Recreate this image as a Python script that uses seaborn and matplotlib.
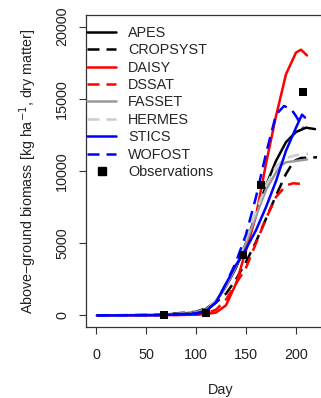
import numpy as np
import pandas as pd
import matplotlib
matplotlib.use("Agg")
import matplotlib.pyplot as plt
from matplotlib.lines import Line2D
import seaborn as sns

# Simulated above-ground biomass (kg/ha, dry matter) per crop model
models = ["APES", "CROPSYST", "DAISY", "DSSAT", "FASSET", "HERMES", "STICS", "WOFOST"]

apes_day = [1, 60, 100, 110, 120, 130, 140, 150, 160, 170, 180, 190, 200, 210, 219]
apes_val = [0, 30, 200, 450, 1000, 2000, 3300, 5000, 7000, 9000, 10700, 12000, 12700, 13000, 12900]

cropsyst_day = [1, 60, 100, 110, 120, 130, 140, 150, 160, 170, 180, 190, 198, 205, 221]
cropsyst_val = [0, 40, 250, 500, 900, 1500, 2500, 3700, 5100, 6700, 8300, 9800, 10700, 10900, 10950]

daisy_day = [1, 60, 100, 110, 120, 130, 140, 150, 160, 170, 180, 190, 200, 205, 211]
daisy_val = [0, 10, 50, 100, 200, 700, 2200, 4500, 6900, 10500, 13800, 16700, 18200, 18400, 18000]

dssat_day = [1, 60, 100, 110, 120, 130, 140, 150, 160, 170, 180, 190, 197, 206]
dssat_val = [0, 10, 60, 120, 400, 1100, 2200, 3300, 5000, 6700, 8200, 9000, 9150, 9100]

fasset_day = [1, 60, 100, 110, 120, 130, 140, 150, 160, 170, 180, 185, 190, 200, 211]
fasset_val = [0, 20, 150, 400, 1000, 2000, 3400, 5000, 6900, 8700, 9900, 10400, 10600, 10700, 10800]

hermes_day = [1, 60, 100, 110, 120, 130, 140, 150, 160, 170, 180, 190, 200, 212]
hermes_val = [0, 20, 200, 450, 1000, 2100, 3500, 5300, 7200, 9000, 10300, 10900, 11100, 11200]

stics_day = [1, 60, 100, 110, 120, 130, 140, 146, 150, 160, 170, 180, 190, 200, 206, 209]
stics_val = [0, 20, 100, 300, 900, 2200, 3500, 4100, 4600, 5900, 7500, 9300, 11400, 13000, 13900, 13700]

wofost_day = [1, 60, 100, 110, 120, 130, 140, 150, 160, 170, 180, 188, 195, 200, 207]
wofost_val = [0, 20, 150, 350, 900, 2200, 3700, 5600, 8200, 11200, 13900, 14500, 14300, 13800, 13000]

# Field observations
obs_day = [68, 110, 147, 165, 207]
obs_val = [0, 200, 4200, 9000, 15500]

series = {
    "APES": (apes_day, apes_val),
    "CROPSYST": (cropsyst_day, cropsyst_val),
    "DAISY": (daisy_day, daisy_val),
    "DSSAT": (dssat_day, dssat_val),
    "FASSET": (fasset_day, fasset_val),
    "HERMES": (hermes_day, hermes_val),
    "STICS": (stics_day, stics_val),
    "WOFOST": (wofost_day, wofost_val),
}

colors = {
    "APES": "black", "CROPSYST": "black",
    "DAISY": "#ff0000", "DSSAT": "#ff0000",
    "FASSET": "#999999", "HERMES": "#cccccc",
    "STICS": "#0000ff", "WOFOST": "#0000ff",
}
dash = (4.8, 2.8)
dashes = {m: ("" if i % 2 == 0 else dash) for i, m in enumerate(models)}
LW = 1.8

frames = [pd.DataFrame({"Day": d, "Biomass": v, "Model": m}) for m, (d, v) in series.items()]
df = pd.concat(frames, ignore_index=True)
obs = pd.DataFrame({"Day": obs_day, "Biomass": obs_val})

sns.set_style("ticks")
plt.rcParams["font.family"] = ["Liberation Sans", "DejaVu Sans"]
FS = 10.4
plt.rcParams["font.size"] = FS

fig = plt.figure(figsize=(3.21, 3.98), dpi=100)
ax = fig.add_axes([86 / 321, 71 / 398, 270 / 321, 312 / 398])

sns.lineplot(data=df, x="Day", y="Biomass", hue="Model", style="Model",
             hue_order=models, style_order=models, palette=colors, dashes=dashes,
             linewidth=LW, ax=ax, legend=False, estimator=None, sort=False)
sns.scatterplot(data=obs, x="Day", y="Biomass", marker="s", color="black",
                s=38, linewidth=0, ax=ax, zorder=5)

ax.set_xlim(-10, 260)
ax.set_ylim(-800, 20800)
ax.set_xticks([0, 50, 100, 150, 200])
ax.set_yticks([0, 5000, 10000, 15000, 20000])
ax.tick_params(axis="both", direction="out", length=5, width=0.8, color="#333333",
               labelsize=FS, labelcolor="#222222")
ax.tick_params(axis="x", pad=10)
ax.tick_params(axis="y", pad=7)
for lab in ax.get_yticklabels():
    lab.set_rotation(90)
    lab.set_va("center")
    lab.set_ha("right")
for sp in ax.spines.values():
    sp.set_visible(True)
    sp.set_linewidth(0.9)
    sp.set_color("#333333")

ax.set_xlabel("Day", fontsize=FS, color="#222222", labelpad=15)
ax.set_ylabel("Above\u2212ground biomass [kg ha$^{-1}$, dry matter]", fontsize=10.3,
              color="#222222", labelpad=12)

# Legend entries
handles = []
for m in models:
    ls = "-" if dashes[m] == "" else (0, dash)
    handles.append(Line2D([0], [0], color=colors[m], lw=LW, linestyle=ls))
handles.append(Line2D([0], [0], marker="s", color="black", lw=0, markersize=6))
ax.legend(handles, models + ["Observations"], loc="upper left",
          bbox_to_anchor=(0.0, 0.970), frameon=False, fontsize=FS,
          handlelength=2.0, handletextpad=0.8, labelspacing=0.235,
          borderaxespad=0.0, borderpad=0.1)

fig.savefig("out.png", dpi=100)
